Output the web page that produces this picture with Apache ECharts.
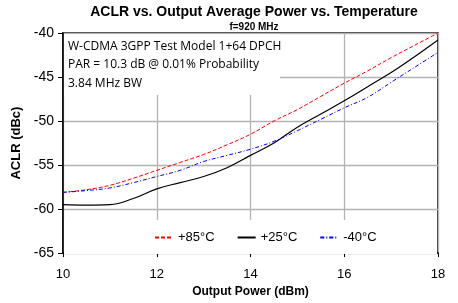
<!DOCTYPE html>
<html lang="en">
<head>
    <meta charset="UTF-8">
    <title>ACLR vs. Output Average Power vs. Temperature</title>
    <script src="https://cdn.jsdelivr.net/npm/echarts@6/dist/echarts.min.js"></script>
    <style>
        html, body { margin: 0; padding: 0; background: #fff; }
    </style>
</head>
<body>
<div id="main" style="width:458px;height:303px;"></div>
<script type="text/javascript">
    // output power (dBm)
    var power = [10, 10.5, 11, 11.5, 12, 12.5, 13, 13.5, 14, 14.5, 15, 15.5, 16, 16.5, 17, 17.5, 18];
    // ACLR (dBc) per temperature
    var aclr85 = [-58.1, -57.8, -57.3, -56.5, -55.6, -54.7, -53.8, -52.7, -51.5, -50.0, -48.7, -47.2, -45.7, -44.3, -42.8, -41.4, -40.0];
    var aclr25 = [-59.5, -59.55, -59.5, -58.8, -57.7, -57.0, -56.3, -55.3, -53.9, -52.5, -50.7, -49.2, -47.7, -46.1, -44.5, -42.7, -40.8];
    var aclrM40 = [-58.1, -57.9, -57.6, -57.0, -56.3, -55.6, -54.6, -53.9, -53.2, -52.3, -51.1, -49.8, -48.5, -47.3, -45.6, -43.9, -42.2];
    var seriesNames = ['+85°C', '+25°C', '-40°C'];
    var noteLines = ['W-CDMA 3GPP Test Model 1+64 DPCH', 'PAR = 10.3 dB @ 0.01% Probability', '3.84 MHz BW'];

    function pairs(ys) {
        var out = [];
        for (var i = 0; i < power.length; i++) {
            out.push([power[i], ys[i]]);
        }
        return out;
    }

    var font = 'Liberation Sans, Arial, sans-serif';
    var myChart = echarts.init(document.getElementById('main'));
    myChart.setOption({
        animation: false,
        backgroundColor: '#fff',
        title: {
            text: 'ACLR vs. Output Average Power vs. Temperature',
            subtext: 'f=920 MHz',
            left: 249,
            textAlign: 'center',
            top: 0,
            itemGap: 3,
            textStyle: { fontFamily: font, fontSize: 14, fontWeight: 'bold', color: '#000' },
            subtextStyle: { fontFamily: font, fontSize: 10, fontWeight: 'bold', color: '#000' }
        },
        grid: {
            left: 63, right: 20, top: 33, bottom: 47,
            show: true, borderColor: '#000', borderWidth: 1.5
        },
        legend: {
            data: seriesNames,
            left: 149,
            top: 226,
            itemWidth: 18,
            itemHeight: 10,
            itemGap: 22,
            itemStyle: { opacity: 0 },
            textStyle: { fontFamily: font, fontSize: 13, color: '#000' }
        },
        graphic: [
            // white note box and legend box (hide the grid behind them)
            { type: 'rect', z: 1, shape: { x: 64, y: 34, width: 216, height: 61 }, style: { fill: '#fff' } },
            { type: 'rect', z: 1, shape: { x: 64, y: 220, width: 373, height: 34 }, style: { fill: '#fff' } },
            { type: 'text', z: 3, left: 68, top: 37,
              style: { text: noteLines.join('\n'), font: '12px Open Sans, Liberation Sans, sans-serif', lineHeight: 18.5, fill: '#000' } }
        ],
        xAxis: {
            type: 'value',
            min: 10, max: 18, interval: 2,
            name: 'Output Power (dBm)',
            nameLocation: 'middle',
            nameGap: 30,
            nameTextStyle: { fontFamily: font, fontSize: 12, fontWeight: 'bold', color: '#000' },
            axisLine: { lineStyle: { color: '#000', width: 1.5 } },
            axisTick: { show: true, length: 4, lineStyle: { color: '#000' } },
            axisLabel: { fontFamily: font, fontSize: 13, color: '#000', margin: 15 },
            splitLine: { show: true, lineStyle: { color: '#b3b3b3', width: 1.3 } }
        },
        yAxis: {
            type: 'value',
            min: -65, max: -40, interval: 5,
            name: 'ACLR (dBc)',
            nameLocation: 'middle',
            nameGap: 32,
            nameTextStyle: { fontFamily: font, fontSize: 13, fontWeight: 'bold', color: '#000' },
            axisLine: { show: true, lineStyle: { color: '#000', width: 1.5 } },
            axisTick: { show: true, length: 5, lineStyle: { color: '#000' } },
            axisLabel: { fontFamily: font, fontSize: 14, color: '#000', margin: 9 },
            splitLine: { show: true, lineStyle: { color: '#b3b3b3', width: 1.3 } }
        },
        series: [
            {
                name: seriesNames[0], type: 'line', data: pairs(aclr85), smooth: 0.4, symbol: 'none', z: 4,
                lineStyle: { color: '#ff0000', width: 1, type: [4, 2] }, itemStyle: { color: '#ff0000' }
            },
            {
                name: seriesNames[1], type: 'line', data: pairs(aclr25), smooth: 0.4, symbol: 'none', z: 4,
                lineStyle: { color: '#000', width: 1.2 }, itemStyle: { color: '#000' }
            },
            {
                name: seriesNames[2], type: 'line', data: pairs(aclrM40), smooth: 0.4, symbol: 'none', z: 4,
                lineStyle: { color: '#0000ff', width: 1, type: [4, 2, 1, 2] }, itemStyle: { color: '#0000ff' }
            }
        ]
    });
</script>
</body>
</html>
